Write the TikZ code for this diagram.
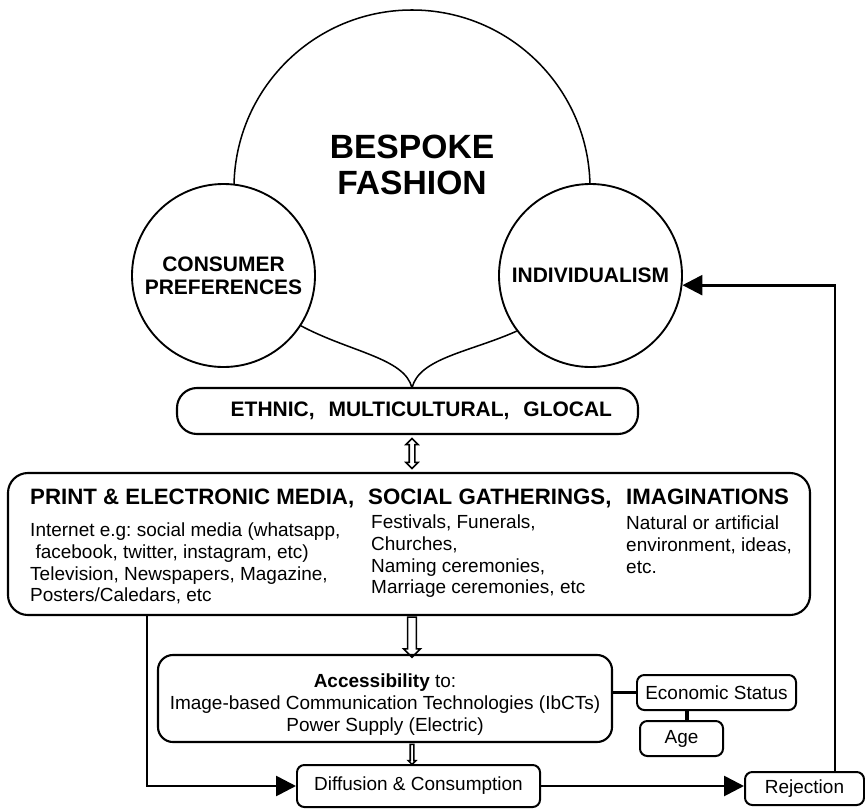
\documentclass[tikz,border=0pt]{standalone}
\usepackage{fontspec}
\setmainfont{Liberation Sans}
\usetikzlibrary{arrows.meta,positioning,calc,shapes.arrows}
\frenchspacing

\begin{document}
\begin{tikzpicture}[x=0.03cm,y=-0.03cm,font=\fontsize{16.2}{18.4}\selectfont]
\useasboundingbox (0,0) rectangle (865,808);
\tikzset{bigcirc/.style={circle,draw,line width=1.6pt,fill=white,minimum size=5.49cm,inner sep=0pt,align=center,font=\fontsize{17.9}{19.6}\selectfont\bfseries}}
\tikzset{pill/.style={draw,line width=1.8pt,rounded corners=0.6cm,inner sep=0pt}}
\tikzset{tag/.style={draw,line width=1.7pt,rounded corners=0.22cm,inner sep=0pt}}
\tikzset{head/.style={anchor=base west,inner sep=0pt,font=\fontsize{19}{21}\selectfont\bfseries}}
\tikzset{col/.style={anchor=north west,inner sep=0pt,align=left}}
\tikzset{blk/.style={draw,line width=1.3pt,inner sep=0pt}}
\tikzset{flow/.style={-{Triangle[length=17pt,width=17pt]},line width=2.3pt}}
\tikzset{link/.style={line width=2.8pt}}
% bespoke fashion on top
\coordinate (bespoke) at (412,188);
\draw[line width=1.3pt] ([xshift=-5.34cm]bespoke) arc[start angle=180,end angle=0,radius=5.34cm];
\node[font=\fontsize{28.7}{30.6}\selectfont\bfseries,align=center] (title) at (412,165) {BESPOKE\\FASHION};
\node[bigcirc] (consumer) at (223.5,275.5) {CONSUMER\\PREFERENCES};
\node[bigcirc] (indiv) at (590.5,275.5) {INDIVIDUALISM};
% ethnic band
\coordinate (cusp) at (412,388);
\node[pill,minimum width=13.83cm,minimum height=1.38cm,text width=12.27cm,inner xsep=0.78cm,align=right,font=\fontsize{17.9}{20}\selectfont\bfseries] (ethnic) at (407.5,411) {ETHNIC,\ \ MULTICULTURAL,\ \ GLOCAL};
\draw[line width=1.3pt] (consumer.-33) .. controls (350,352) and (405,358) .. (cusp);
\draw[line width=1.3pt] (indiv.217) .. controls (470,352) and (419,358) .. (cusp);
% media, gatherings, imaginations
\node[pill,minimum width=24.06cm,minimum height=4.26cm] (media) at (409,544) {};
\node[double arrow,blk,rotate=90,minimum height=0.9cm,minimum width=0.34cm,inner sep=0.06cm,double arrow head extend=0.1cm] (both) at ($(ethnic.south -| cusp)!0.5!(media.north -| cusp)$) {};
\node[head] (h1) at (30,504) {PRINT \& ELECTRONIC MEDIA,};
\node[head] (h2) at (368,504) {SOCIAL GATHERINGS,};
\node[head] (h3) at (626,504) {IMAGINATIONS};
\node[col] (c1) at (30,523) {Internet e.g: social media (whatsapp,\\\hspace{0.28em}facebook, twitter, instagram, etc)\\Television, Newspapers, Magazine,\\Posters/Caledars, etc};
\node[col] (c2) at (371,515) {Festivals, Funerals,\\Churches,\\Naming ceremonies,\\Marriage ceremonies, etc};
\node[col] (c3) at (626,516) {Natural or artificial\\environment, ideas,\\etc.};
% accessibility
\node[pill,rounded corners=0.45cm,minimum width=13.62cm,minimum height=2.61cm,align=center,font=\fontsize{16.2}{19.1}\selectfont] (access) at (385,698.5) {\rule{0pt}{0.78cm}\textbf{Accessibility} to:\\Image-based Communication Technologies (IbCTs)\\Power Supply (Electric)};
\node[single arrow,blk,rotate=-90,minimum height=1.2cm,minimum width=0.48cm,inner sep=0.11cm,single arrow head extend=0.12cm] (down) at ($(media.south -| cusp)!0.5!(access.north -| cusp)$) {};
\node[tag,minimum width=4.77cm,minimum height=1.05cm] (econ) at (716.5,692.5) {Economic Status};
\node[tag,minimum width=2.49cm,minimum height=1.05cm] (age) at (681.5,738.5) {Age};
\draw[link] (econ.west -| access.east) -- (econ.west);
\draw[line width=3.4pt] ($(age.north)+(5.5,0)$) -- ($(age.north |- econ.south)+(5.5,0)$);
% diffusion and rejection
\node[tag,minimum width=7.29cm,minimum height=1.26cm] (diffusion) at (418.5,786) {Diffusion \& Consumption};
\node[tag,minimum width=3.57cm,minimum height=0.99cm] (rejection) at (804.5,788.5) {Rejection};
\node[single arrow,blk,rotate=-90,minimum height=0.6cm,minimum width=0.2cm,inner sep=0.03cm,single arrow head extend=0.06cm] (small) at ($(access.south -| cusp)!0.5!(diffusion.north -| cusp)$) {};
\draw[flow] ([xshift=4.2cm]media.south west) |- (diffusion.west);
\draw[flow] (diffusion.east) -- (diffusion.east -| rejection.west);
\draw[flow] ([xshift=-0.9cm]rejection.north east) |- (indiv.-6.5);
\end{tikzpicture}
\end{document}
